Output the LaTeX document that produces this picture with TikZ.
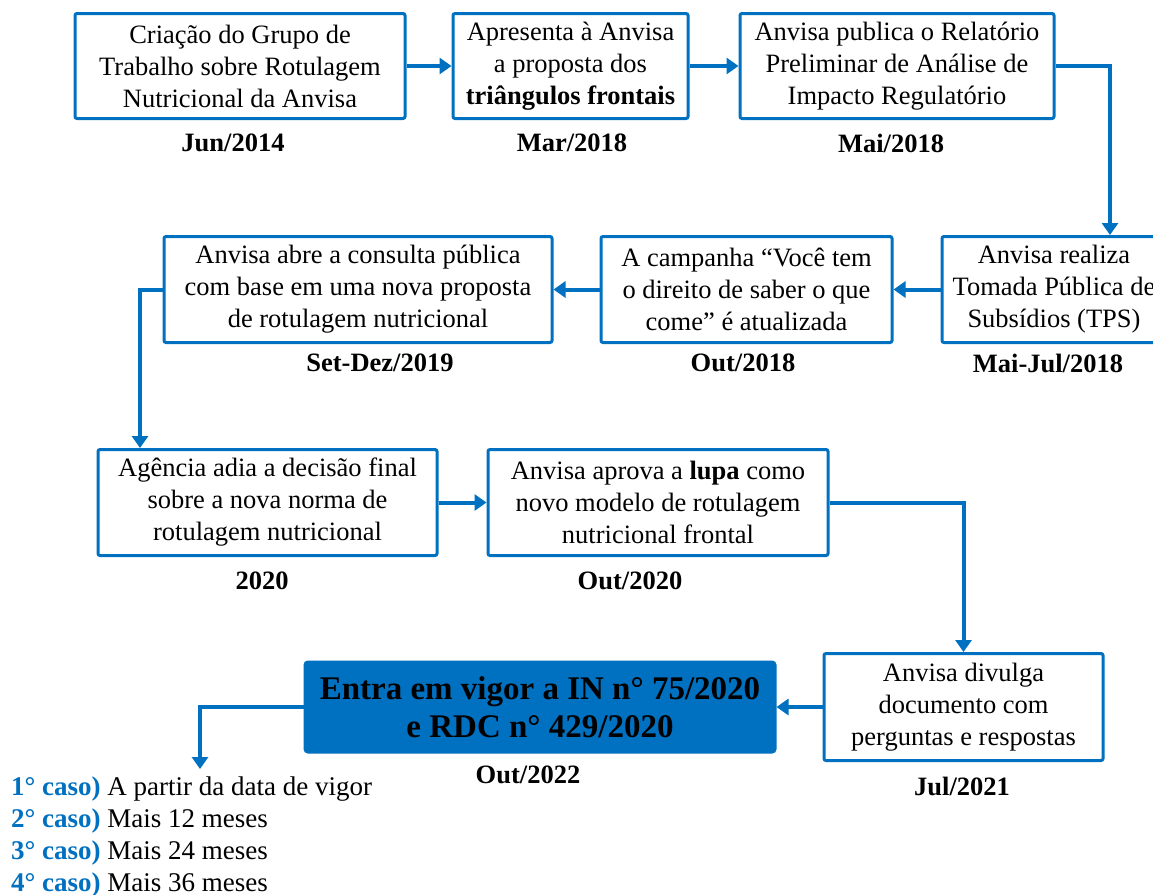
\documentclass[tikz,border=0pt]{standalone}
\usepackage{fontspec}
\setmainfont{Liberation Serif}
\usetikzlibrary{arrows.meta}
\definecolor{myblue}{RGB}{0,112,192}
\newcommand\bodyfont{\fontsize{26.5}{32}\selectfont}
\newcommand\listfont{\fontsize{27}{31.7}\selectfont}
\newcommand\bigfont{\fontsize{33}{38}\selectfont}
\begin{document}
\begin{tikzpicture}[x=1pt,y=-1pt,
 box/.style={draw=myblue, line width=3pt, rounded corners=2pt, align=center, inner sep=0pt, font=\bodyfont, text=black},
 datelbl/.style={font=\bodyfont\bfseries, inner sep=0pt},
 arr/.style={draw=myblue, line width=4pt, -{Triangle[width=16pt,length=12pt]}},
]
\useasboundingbox (0,0) rectangle (1153,894);
\clip (0,0) rectangle (1153,894);
% row 1
\node[box, minimum width=330, minimum height=105] (A) at (240,66) {Criação do Grupo de\\Trabalho sobre Rotulagem\\Nutricional da Anvisa};
\node[box, minimum width=235, minimum height=105] (B) at (570.5,66) {Apresenta à Anvisa\\a proposta dos\\\textbf{triângulos frontais}};
\node[box, minimum width=314, minimum height=105] (C) at (897,66) {Anvisa publica o Relatório\\Preliminar de Análise de\\Impacto Regulatório};
\node[datelbl] (dA) at (233,143) {Jun/2014};
\node[datelbl] (dB) at (572,143) {Mar/2018};
\node[datelbl] (dC) at (891,143) {Mai/2018};
% row 2
\node[box, minimum width=224, minimum height=106] (D) at (1054,289.5) {Anvisa realiza\\Tomada Pública de\\Subsídios (TPS)};
\node[box, minimum width=291, minimum height=106] (E) at (746.5,289.5) {A campanha “Você tem\\o direito de saber o que\\come” é atualizada};
\node[box, minimum width=388, minimum height=106] (F) at (358,289.5) {Anvisa abre a consulta pública\\com base em uma nova proposta\\de rotulagem nutricional};
\node[datelbl] (dD) at (1048,363) {Mai-Jul/2018};
\node[datelbl] (dE) at (743,363) {Out/2018};
\node[datelbl] (dF) at (380,363) {Set-Dez/2019};
% row 3
\node[box, minimum width=339, minimum height=106] (G) at (267.5,502.5) {Agência adia a decisão final\\sobre a nova norma de\\rotulagem nutricional};
\node[box, minimum width=340, minimum height=106] (H) at (658,502.5) {Anvisa aprova a \textbf{lupa} como\\novo modelo de rotulagem\\nutricional frontal};
\node[datelbl] (dG) at (262,581) {2020};
\node[datelbl] (dH) at (630,581) {Out/2020};
% row 4
\node[box, minimum width=279, minimum height=107] (I) at (963.5,707) {Anvisa divulga\\documento com\\perguntas e respostas};
\node[box, fill=myblue, minimum width=470, minimum height=90, font=\bigfont\bfseries, rounded corners=3pt] (J) at (540,707) {Entra em vigor a IN n° 75/2020\\e RDC n° 429/2020};
\node[datelbl] (dI) at (962,786) {Jul/2021};
\node[datelbl] (dJ) at (528,775) {Out/2022};
% cases
\node[anchor=north west, align=left, font=\listfont, inner sep=0pt] (casos) at (11,777)
 {\textcolor{myblue}{\textbf{1° caso)}} A partir da data de vigor\\
  \textcolor{myblue}{\textbf{2° caso)}} Mais 12 meses\\
  \textcolor{myblue}{\textbf{3° caso)}} Mais 24 meses\\
  \textcolor{myblue}{\textbf{4° caso)}} Mais 36 meses};
\coordinate (tip) at (200,769);
% connectors
\draw[arr] (A) -- (B);
\draw[arr] (B) -- (C);
\draw[arr] (C.east) -| ([xshift=56]D.north);
\draw[arr] (D) -- (E);
\draw[arr] (E) -- (F);
\draw[arr] (F.west) -| ([xshift=-127.5]G.north);
\draw[arr] (G) -- (H);
\draw[arr] (H.east) -| (I.north);
\draw[arr] (I.west) -- (J.east |- I.west);
\draw[arr] (J.west) -| (tip);
\end{tikzpicture}
\end{document}
